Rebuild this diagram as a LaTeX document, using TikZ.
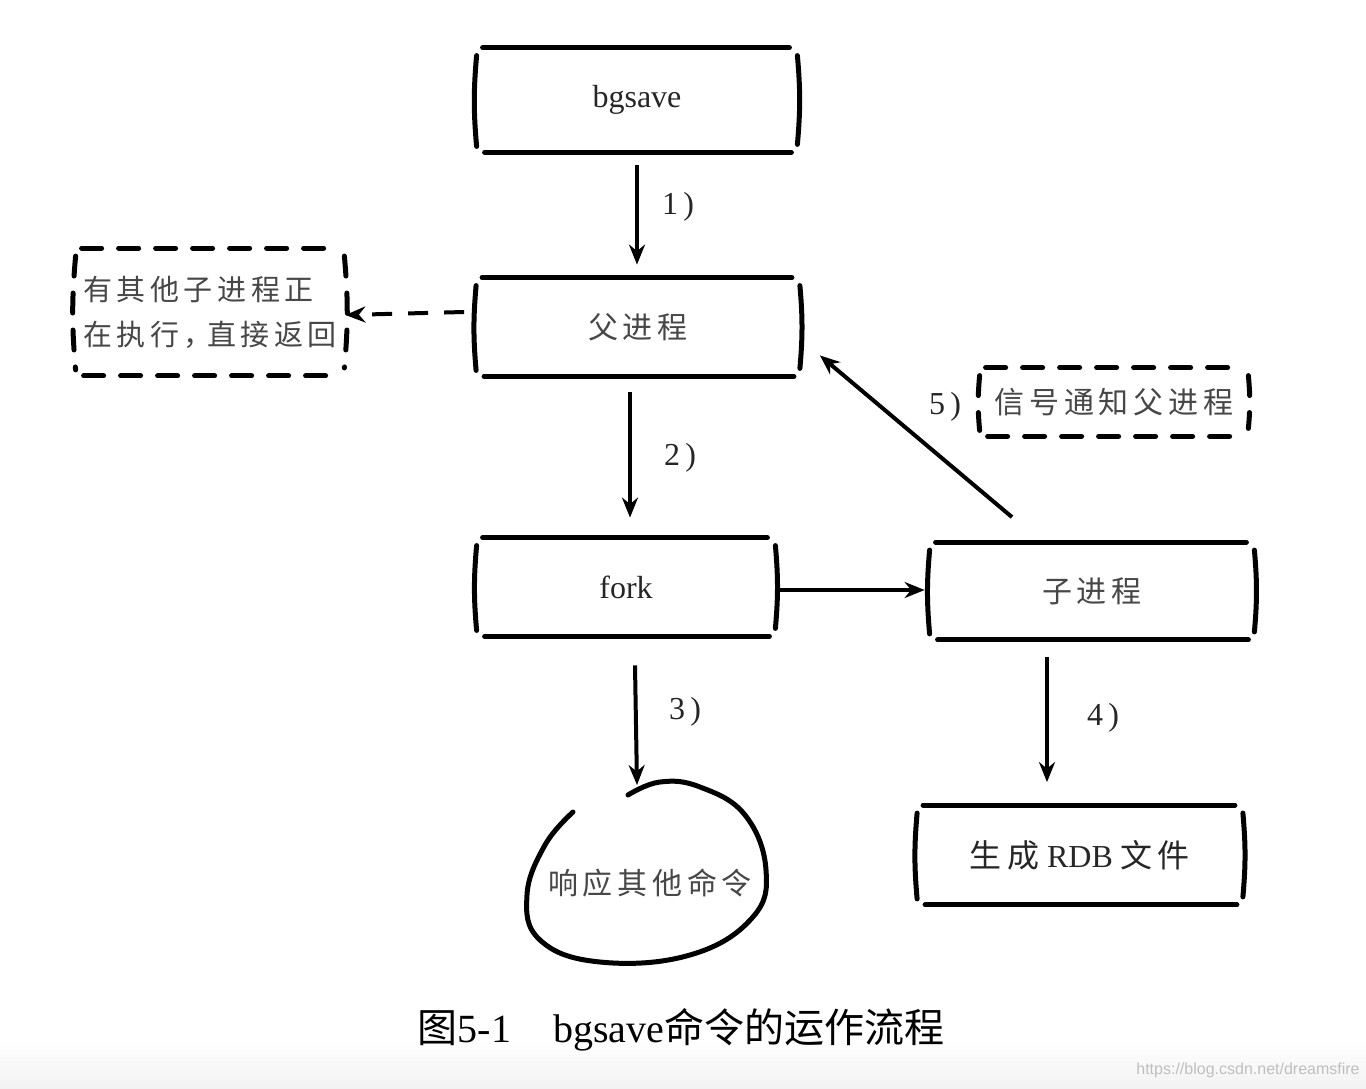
\documentclass[tikz,border=0pt]{standalone}
\usepackage{fontspec}
\setmainfont{Liberation Serif}
\setsansfont{Liberation Sans}
\newfontfamily\cjk[LetterSpace=16]{Noto Sans CJK SC}
\newfontfamily\cjkcap{Noto Sans CJK SC}
\usetikzlibrary{arrows.meta,calc}
\tikzset{
  sk/.style={line width=2.5pt, line cap=round},
  dsk/.style={line width=2.5pt, line cap=round, dash pattern=on 10pt off 8.5pt},
  arr/.style={line width=2pt, -{Stealth[length=10pt,width=8pt]}},
  darr/.style={arr, dash pattern=on 10pt off 8pt},
  lbl/.style={font=\fontsize{16}{18}\selectfont, text=black!85},
  txt/.style={font=\cjk\fontsize{15}{22.5}\selectfont, text=black!72},
  latin/.style={font=\fontsize{16}{18}\selectfont, text=black!85},
  boxnode/.style={inner sep=0pt, minimum width=#1},
}
\newcommand{\skbox}[2]{%
  \draw[#2] ([xshift=3pt]#1.north west) -- ([xshift=-4pt]#1.north east);
  \draw[#2] ([xshift=4pt]#1.south west) -- ([xshift=-3pt]#1.south east);
  \draw[#2] ([yshift=-4pt]#1.north west) to[bend right=5] ([yshift=3pt]#1.south west);
  \draw[#2] ([yshift=-4pt]#1.north east) to[bend left=5] ([yshift=4pt]#1.south east);
}
\begin{document}
\begin{tikzpicture}[x=0.5pt,y=-0.5pt]
\useasboundingbox (0,0) rectangle (1366,1088);
\fill[white] (0,0) rectangle (1366,1088);
\shade[top color=white, bottom color=black!5] (0,1040) rectangle (1366,1088);

% boxes
\node[boxnode=160pt, minimum height=52pt, latin] (bg) at (637,100) {bgsave};
\node[boxnode=161.5pt, minimum height=49pt, txt] (fu) at (638,327) {父进程};
\node[boxnode=149pt, minimum height=49pt, latin] (fork) at (626,587) {fork};
\node[boxnode=162pt, minimum height=48.5pt, txt] (zi) at (1092,591) {子进程};
\node[boxnode=162.5pt, minimum height=49.5pt, latin] (rdb) at (1080,855) {{\cjk 生成} RDB {\cjk 文件}};
\node[boxnode=134pt, minimum height=63.5pt, txt, font=\cjk\fontsize{14.5}{22.5}\selectfont, align=left] (lb) at (210,312) {有其他子进程正\\在执行，\hspace{-3pt}直接返回};
\node[boxnode=134pt, minimum height=34pt, txt] (rb) at (1114,402) {信号通知父进程};
\node[txt] (resp) at (650,883) {响应其他命令};

\skbox{bg}{sk}
\skbox{fu}{sk}
\skbox{fork}{sk}
\skbox{zi}{sk}
\skbox{rdb}{sk}
\skbox{lb}{dsk}
\skbox{rb}{dsk}

% blob
\draw[sk] plot[smooth, tension=0.7] coordinates {(573,812) (545,845) (527,895) (540,940) (600,962) (690,955) (752,918) (766,870) (745,815) (700,787) (660,782) (628,795)};
\coordinate (resptop) at (637,785);

% arrows
\draw[arr] (bg.south) ++(0,13) -- ($(fu.north)+(-1,-13)$);
\draw[arr] ($(fu.south)+(-8,16)$) -- ($(fork.north)+(4,-20)$);
\draw[arr] ($(fork.south)+(9,29)$) -- (resptop);
\draw[arr] ($(zi.south)+(-45,17)$) -- ($(rdb.north)+(-33,-23)$);
\draw[arr] ($(fork.east)+(3,3)$) -- ($(zi.west)+(-5,-1)$);
\draw[arr] ($(zi.north)+(-80,-25)$) -- ($(fu.south east)+(20,-21)$);
\draw[darr] ($(fu.west)+(-12,-15)$) -- ($(lb.east)+(1,3)$);

% labels
\node[lbl] (l1) at (678,207) {1\,)};
\node[lbl] (l2) at (680,458) {2\,)};
\node[lbl] (l3) at (685,712) {3\,)};
\node[lbl] (l4) at (1103,718) {4\,)};
\node[lbl] (l5) at (945,407) {5\,)};

% caption
\node[font=\fontsize{20}{24}\selectfont, text=black] (cap) at (681,1030) {{\cjkcap 图}5-1\hspace{21pt}bgsave{\cjkcap 命令的运作流程}};
\node[font=\sffamily\fontsize{8}{9}\selectfont, text=black!25] (wm) at (1248,1070) {https://blog.csdn.net/dreamsfire};
\end{tikzpicture}
\end{document}
